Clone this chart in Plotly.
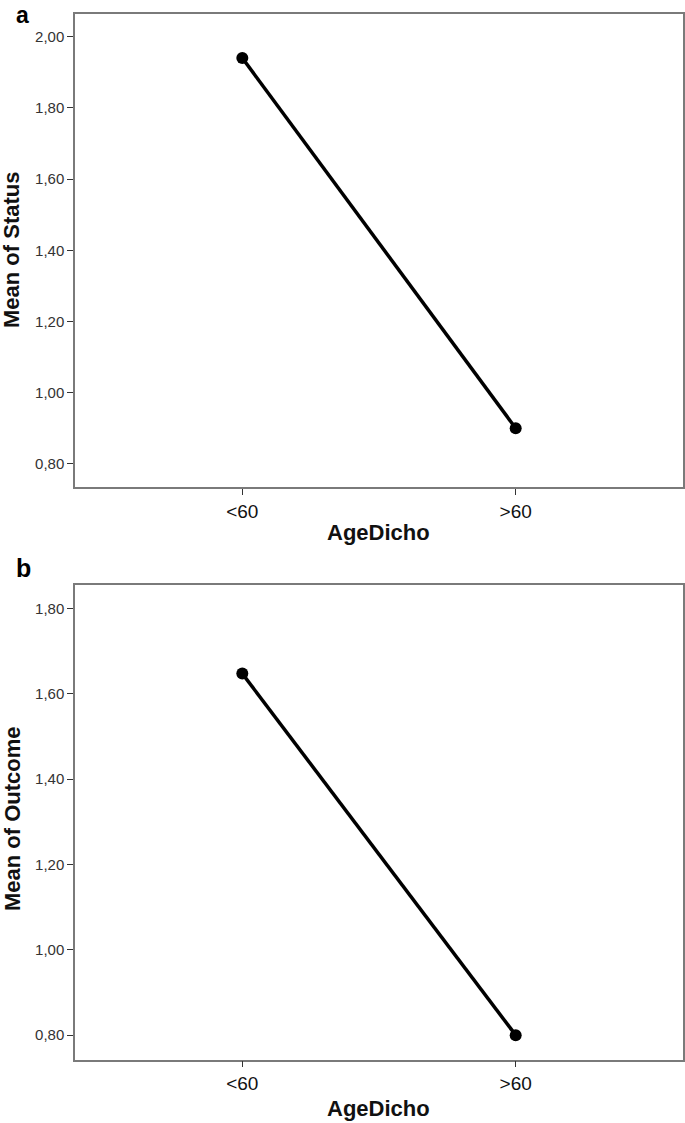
import plotly.graph_objects as go

categories = ["<60", ">60"]
status_means = [1.94, 0.90]
outcome_means = [1.647, 0.80]
status_ticks = [0.8, 1.0, 1.2, 1.4, 1.6, 1.8, 2.0]
outcome_ticks = [0.8, 1.0, 1.2, 1.4, 1.6, 1.8]

W, H = 685, 1123
fig = go.Figure()

line_style = dict(color="black", width=3.5)
marker_style = dict(color="black", size=12)

fig.add_trace(go.Scatter(x=[0, 1], y=status_means, mode="lines+markers",
                         line=line_style, marker=marker_style,
                         xaxis="x", yaxis="y", showlegend=False,
                         hovertext=categories))
fig.add_trace(go.Scatter(x=[0, 1], y=outcome_means, mode="lines+markers",
                         line=line_style, marker=marker_style,
                         xaxis="x2", yaxis="y2", showlegend=False,
                         hovertext=categories))

def px(p):
    return p / W

def py(p):
    return 1 - p / H

xdom = [px(75), px(683)]

common_x = dict(range=[-0.612, 1.612], tickvals=[0, 1], ticktext=categories,
                showline=True, mirror=True, linecolor="#7a7a7a", linewidth=1.5,
                ticks="outside", ticklen=6, tickcolor="#333", tickwidth=1,
                showgrid=False, zeroline=False,
                tickfont=dict(family="Liberation Sans", size=19, color="#111"))
common_y = dict(showline=True, mirror=True, linecolor="#7a7a7a", linewidth=1.5,
                ticks="outside", ticklen=6, tickcolor="#333", tickwidth=1,
                showgrid=False, zeroline=False, tickformat=".2f",
                tickfont=dict(family="Liberation Sans", size=15, color="#333"))

fig.update_layout(
    width=W, height=H,
    margin=dict(l=0, r=0, t=0, b=0),
    paper_bgcolor="white", plot_bgcolor="white",
    separators=",.",
    xaxis=dict(domain=xdom, anchor="y", **common_x),
    yaxis=dict(domain=[py(487), py(13.5)], anchor="x", range=[0.735, 2.065],
               tickvals=status_ticks, **common_y),
    xaxis2=dict(domain=xdom, anchor="y2", **common_x),
    yaxis2=dict(domain=[py(1059.5), py(585)], anchor="x2", range=[0.743, 1.8545],
                tickvals=outcome_ticks, **common_y),
)

title_font = dict(family="Liberation Sans", size=22, color="#111")
ann = [
    dict(text="<b>a</b>", x=px(14), y=1, xanchor="left", yanchor="top",
         font=dict(family="Liberation Sans", size=23, color="black")),
    dict(text="<b>b</b>", x=px(14), y=py(568), xanchor="left", yanchor="middle",
         font=dict(family="Liberation Sans", size=25, color="black")),
    dict(text="<b>Mean of Status</b>", x=px(12), y=py(250), textangle=-90,
         xanchor="center", yanchor="middle", font=title_font),
    dict(text="<b>Mean of Outcome</b>", x=px(12), y=py(819), textangle=-90,
         xanchor="center", yanchor="middle", font=title_font),
    dict(text="<b>AgeDicho</b>", x=px(379), y=py(533), xanchor="center",
         yanchor="middle", font=title_font),
    dict(text="<b>AgeDicho</b>", x=px(379), y=py(1108), xanchor="center",
         yanchor="middle", font=title_font),
]
for a in ann:
    a.update(xref="paper", yref="paper", showarrow=False)
fig.update_layout(annotations=ann)

fig.write_html("out.html",
               config={"displayModeBar": False},
               post_script="document.body.style.margin='0';"
                           "document.body.style.overflow='hidden';")
